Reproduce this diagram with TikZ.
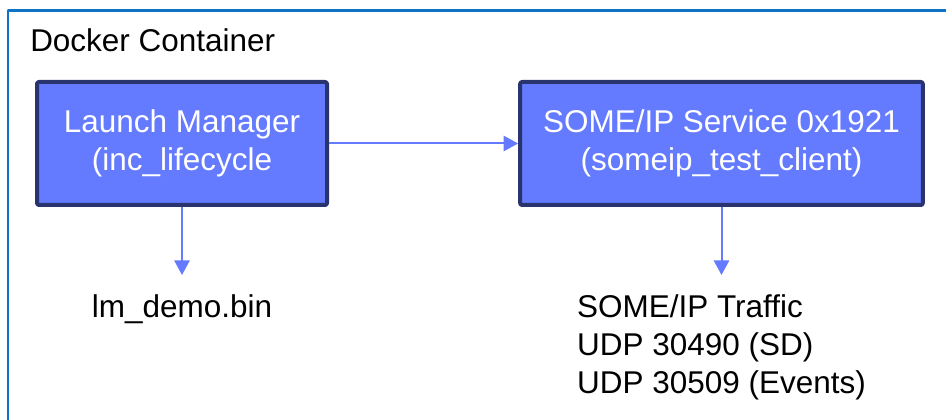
\documentclass[tikz,border=0pt]{standalone}
\usepackage{fontspec}
\setmainfont{Liberation Sans}
\usetikzlibrary{arrows.meta}
\definecolor{boxfill}{HTML}{647AFF}
\definecolor{boxline}{HTML}{29336E}
\definecolor{frameblue}{HTML}{0E73C4}
\tikzset{
	compbox/.style={draw=boxline, fill=boxfill, line width=3pt, rounded corners=1.5pt, text=white, align=center, minimum width=217.5pt, minimum height=92.25pt, inner sep=0pt},
	outtext/.style={align=left, inner xsep=0pt, inner ysep=14.5pt},
	flow/.style={draw=boxfill, line width=1.5pt, -{Triangle[width=11.5pt,length=11pt]}}
}
\begin{document}
\begin{tikzpicture}[x=0.75pt, y=-0.75pt, font=\fontsize{23.6}{28.5}\selectfont, line join=round]
	\useasboundingbox (0,0) rectangle (946,420);
	\clip (0,0) rectangle (946,420);
	% container frame (runs off the page)
	\draw[frameblue, line width=1.9pt] (8,10.5) rectangle (980,460);
	\node[anchor=base west, inner sep=0pt] (title) at (30,52) {Docker Container};
	\node[compbox] (lm) at (182,143.5) {Launch Manager\\(inc\_lifecycle};
	\node[compbox, minimum width=302pt] (svc) at (721.5,143.5) {SOME/IP Service 0x1921\\(someip\_test\_client)};
	\node[outtext, anchor=north] (bin) at (182,275) {lm\_demo.bin};
	\node[outtext, anchor=north] (traffic) at (721.5,275) {SOME/IP Traffic\\UDP 30490 (SD)\\UDP 30509 (Events)};
	\draw[flow] (lm) -- (svc);
	\draw[flow] (lm) -- (bin);
	\draw[flow] (svc) -- (traffic);
\end{tikzpicture}
\end{document}
